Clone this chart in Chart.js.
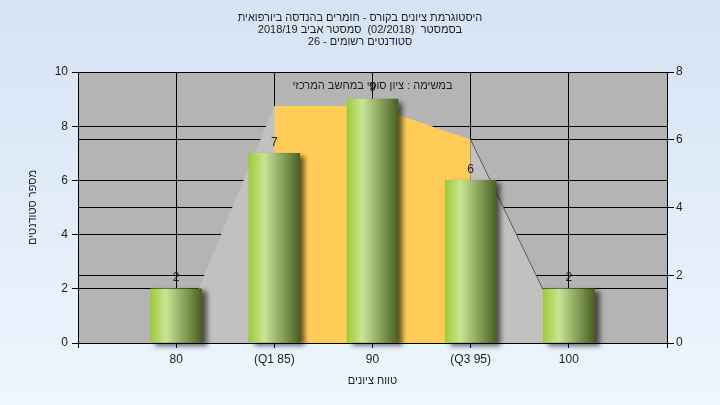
<!DOCTYPE html>
<html>
<head>
<meta charset="utf-8">
<script src="https://cdn.jsdelivr.net/npm/chart.js@4.4.0/dist/chart.umd.min.js"></script>
<style>
  body { margin: 0; background: linear-gradient(#d6e3f5, #eef6fe); width: 720px; height: 405px; overflow: hidden; }
  canvas { display: block; }
</style>
</head>
<body>
<canvas id="chart" width="720" height="405"></canvas>
<script>
// data
const categories = ['', '80', '(Q1 85)', '90', '(Q3 95)', '100', ''];
const students = [null, 2, 7, 9, 6, 2, null];
const spread = [null, 0, 7, 7, 6, 0, null];      // gray polygon, right axis
const quartiles = [null, null, 7, 7, 6, null, null]; // yellow band, right axis
const leftTicks = [0, 2, 4, 6, 8, 10];
const rightTicks = [0, 2, 4, 6, 8];

const titleLines = [
  'היסטוגרמת ציונים בקורס - חומרים בהנדסה ביורפואית',
  'בסמסטר  (02/2018)  סמסטר אביב 2018/19',
  'סטודנטים רשומים - 26'
];
const noteText = 'במשימה : ציון סופי במחשב המרכזי';
const xTitle = 'טווח ציונים';
const yTitle = 'מספר סטודנטים';

const FONT = "'Liberation Sans', 'DejaVu Sans', Arial, sans-serif";
const TEXT = '#1e1e1e';
const BAR_W = 51;

function barGradient(context) {
  const chart = context.chart;
  const xs = chart.scales.x;
  if (!xs || !chart.chartArea) return '#a8cc50';
  const cx = xs.getPixelForValue(context.dataIndex);
  const g = chart.ctx.createLinearGradient(cx - BAR_W / 2, 0, cx + BAR_W / 2, 0);
  g.addColorStop(0, '#9ccc36');
  g.addColorStop(0.3, '#c9e594');
  g.addColorStop(0.65, '#8aa45c');
  g.addColorStop(1, '#4a6022');
  return g;
}

const plotBackground = {
  id: 'plotBackground',
  beforeDraw(chart) {
    const a = chart.chartArea;
    const ctx = chart.ctx;
    ctx.save();
    ctx.fillStyle = '#b4b4b4';
    ctx.fillRect(a.left, a.top, a.right - a.left, a.bottom - a.top);
    ctx.restore();
  }
};

const barShadow = {
  id: 'barShadow',
  beforeDatasetDraw(chart, args) {
    if (args.meta.type !== 'bar') return;
    const ctx = chart.ctx;
    ctx.save();
    ctx.shadowColor = 'rgba(0,0,0,0.6)';
    ctx.shadowOffsetX = 5;
    ctx.shadowOffsetY = 3;
    ctx.shadowBlur = 5;
  },
  afterDatasetDraw(chart, args) {
    if (args.meta.type !== 'bar') return;
    chart.ctx.restore();
  }
};

const texts = {
  id: 'texts',
  afterDraw(chart) {
    const ctx = chart.ctx;
    ctx.save();
    ctx.fillStyle = TEXT;
    ctx.textBaseline = 'middle';
    ctx.textAlign = 'center';
    // value labels above the bars
    ctx.font = '12px ' + FONT;
    const meta = chart.getDatasetMeta(2);
    meta.data.forEach((el, i) => {
      if (students[i] == null) return;
      ctx.direction = 'ltr';
      ctx.fillText(String(students[i]), el.x, el.y - 11);
    });
    ctx.font = '11px ' + FONT;
    ctx.direction = 'rtl';
    titleLines.forEach((t, i) => ctx.fillText(t, 360, 18 + i * 12));
    const a = chart.chartArea;
    ctx.fillText(noteText, (a.left + a.right) / 2, 86);
    ctx.restore();
  }
};

new Chart(document.getElementById('chart'), {
  type: 'bar',
  data: {
    labels: categories,
    datasets: [
      {
        type: 'line',
        data: spread,
        yAxisID: 'y2',
        order: 3,
        fill: 'origin',
        backgroundColor: '#c1c1c1',
        borderWidth: 1,
        borderColor: 'rgba(0,0,0,0)',
        segment: {
          borderColor: ctx => ctx.p0DataIndex === 4 ? '#5a5a5a' : 'rgba(0,0,0,0)'
        },
        pointRadius: 0,
        tension: 0
      },
      {
        type: 'line',
        data: quartiles,
        yAxisID: 'y2',
        order: 2,
        fill: 'origin',
        backgroundColor: '#ffcc58',
        borderWidth: 0,
        borderColor: 'rgba(0,0,0,0)',
        pointRadius: 0,
        tension: 0
      },
      {
        type: 'bar',
        data: students,
        yAxisID: 'y',
        order: 1,
        barThickness: BAR_W,
        backgroundColor: barGradient,
        borderWidth: 0,
        clip: false
      }
    ]
  },
  options: {
    responsive: false,
    animation: false,
    layout: { padding: { top: 72, left: 0, right: 0, bottom: 0 } },
    plugins: {
      legend: { display: false },
      tooltip: { enabled: false },
      title: { display: false }
    },
    scales: {
      x: {
        type: 'category',
        offset: false,
        grid: { color: '#000', lineWidth: 1, tickLength: 5, offset: false },
        border: { color: '#000' },
        ticks: {
          color: TEXT, font: { family: FONT, size: 12 },
          autoSkip: false, maxRotation: 0, padding: 4
        },
        title: {
          display: true, text: xTitle, color: TEXT,
          font: { family: FONT, size: 11 }, padding: { top: 0, bottom: 17 }
        },
        afterFit(s) { s.height = 62; }
      },
      y: {
        position: 'left',
        min: 0, max: 10,
        afterBuildTicks(s) { s.ticks = leftTicks.map(v => ({ value: v })); },
        grid: { color: '#000', lineWidth: 1, tickLength: 6 },
        border: { color: '#000' },
        ticks: { color: TEXT, font: { family: FONT, size: 12 }, padding: 4 },
        title: {
          display: true, text: yTitle, color: TEXT,
          font: { family: FONT, size: 11 }, padding: { top: 26, bottom: 0 }
        },
        afterFit(s) { s.width = 78; }
      },
      y2: {
        position: 'right',
        min: 0, max: 8,
        afterBuildTicks(s) { s.ticks = rightTicks.map(v => ({ value: v })); },
        grid: { color: '#000', lineWidth: 1, tickLength: 7 },
        border: { color: '#000' },
        ticks: { color: TEXT, font: { family: FONT, size: 12 }, padding: 2 },
        afterFit(s) { s.width = 53; }
      }
    }
  },
  plugins: [plotBackground, barShadow, texts]
});
</script>
</body>
</html>
